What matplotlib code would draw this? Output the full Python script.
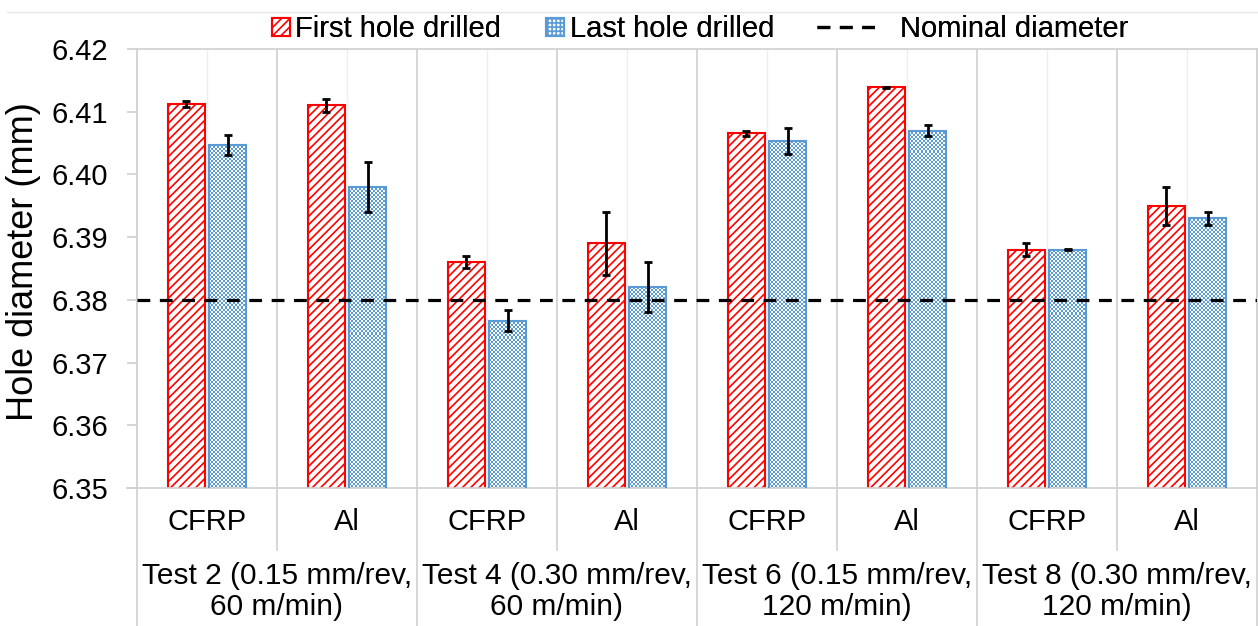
"""
Hole diameter, first vs last hole drilled, per test and material
"""

import matplotlib
matplotlib.use("Agg")
import matplotlib.pyplot as plt
from matplotlib.patches import Rectangle
from matplotlib.lines import Line2D
from matplotlib.legend_handler import HandlerPatch
from matplotlib.colors import ListedColormap
import numpy as np

plt.rcParams['font.family'] = ['Liberation Sans', 'DejaVu Sans']
plt.rcParams['hatch.linewidth'] = 1.2

# data
materials = ['CFRP', 'Al']
tests = ['Test 2 (0.15 mm/rev,\n60 m/min)', 'Test 4 (0.30 mm/rev,\n60 m/min)',
         'Test 6 (0.15 mm/rev,\n120 m/min)', 'Test 8 (0.30 mm/rev,\n120 m/min)']
first_mean = [6.4112, 6.4110, 6.3860, 6.3890, 6.4066, 6.4139, 6.3880, 6.3950]
first_err = [0.0005, 0.0010, 0.0010, 0.0050, 0.0004, 0.0001, 0.0010, 0.0030]
last_mean = [6.4047, 6.3980, 6.3767, 6.3820, 6.4053, 6.4070, 6.3880, 6.3930]
last_err = [0.0016, 0.0040, 0.0017, 0.0040, 0.0021, 0.0009, 0.0001, 0.0010]
nominal = 6.38
yticks = [6.35, 6.36, 6.37, 6.38, 6.39, 6.40, 6.41, 6.42]
legend_labels = ['First hole drilled', 'Last hole drilled', 'Nominal diameter']

RED = '#FF0000'
BLUE = '#5B9BD5'
GRID_DARK = '#D0D0D0'
GRID_LIGHT = '#EFEFEF'

fig = plt.figure(figsize=(12.58, 6.26), dpi=100)
ax = fig.add_axes([137 / 1258, 1 - 488 / 626, 1120 / 1258, 439 / 626])

n = len(first_mean)
x = np.arange(n)
w = 0.26
off = 0.147

ax.set_xlim(-0.5, n - 0.5)
ax.set_ylim(6.35, 6.42)

# gridlines: darker at category boundaries, lighter at category centres
for b in np.arange(-0.5, n, 1.0):
    ax.axvline(b, color=GRID_DARK, lw=1.2, zorder=0)
for c in x:
    ax.axvline(c, color=GRID_LIGHT, lw=1.0, zorder=0)

ax.bar(x - off, first_mean, w, color='white', edgecolor=RED,
       hatch='////', lw=1.5, zorder=2)
last_bars = ax.bar(x + off, last_mean, w, color='none', edgecolor=BLUE,
                   lw=1.5, zorder=3)

# small checkerboard fill (2 px cells) for the "last hole" bars:
# one pixel-aligned image over the whole axes, clipped to each bar
checker = ListedColormap(['white', BLUE])
bb = ax.get_window_extent()
npx, npy = int(round(bb.width)), int(round(bb.height))
jj, ii = np.meshgrid(np.arange(npx), np.arange(npy))
cells = (ii // 2 + jj // 2) % 2
for rect in last_bars:
    im = ax.imshow(cells, extent=(*ax.get_xlim(), *ax.get_ylim()), cmap=checker,
                   interpolation='nearest', aspect='auto', zorder=2)
    im.set_clip_path(rect)

ax.errorbar(x - off, first_mean, yerr=first_err, fmt='none', ecolor='black',
            elinewidth=2, capsize=3, capthick=2, zorder=4)
ax.errorbar(x + off, last_mean, yerr=last_err, fmt='none', ecolor='black',
            elinewidth=2, capsize=3, capthick=2, zorder=4)
ax.axhline(nominal, color='black', lw=2.3, ls=(0, (4, 3)), zorder=5)

ax.set_xlim(-0.5, n - 0.5)
ax.set_ylim(6.35, 6.42)
ax.set_yticks(yticks)
ax.set_yticklabels([f'{v:.2f}' for v in yticks], fontsize=21)
ax.set_xticks([])
ax.tick_params(axis='y', length=7, width=1.2, color=GRID_DARK, pad=14)
for s in ax.spines.values():
    s.set_color(GRID_DARK)
    s.set_linewidth(1.2)

# two-level category labels
trans = ax.get_xaxis_transform()
for i in range(n):
    ax.text(i, -0.077, materials[i % 2], transform=trans, ha='center',
            va='center', fontsize=21, clip_on=False)
for g, t in enumerate(tests):
    ax.text(2 * g + 0.5, -0.235, t, transform=trans, ha='center', va='center',
            fontsize=21.5, linespacing=1.15, clip_on=False)

y_full = (488 - 626) / 439
y_half = (488 - 550) / 439
for b in np.arange(-0.5, n, 2.0):
    ax.add_line(Line2D([b, b], [0, y_full], transform=trans, color=GRID_DARK,
                       lw=1.2, clip_on=False))
for b in np.arange(0.5, n, 2.0):
    ax.add_line(Line2D([b, b], [0, y_half], transform=trans, color=GRID_DARK,
                       lw=1.2, clip_on=False))
ax.add_line(Line2D([-0.5 - 10 / 140, -0.5], [0, 0], transform=trans,
                   color=GRID_DARK, lw=1.2, clip_on=False))

fig.text(24 / 1258, 1 - 262 / 626, 'Hole diameter (mm)', rotation=90,
         ha='center', va='center', fontsize=26)

# faint chart frame line at top
fig.add_artist(Line2D([7 / 1258, 1], [1 - 12 / 626, 1 - 12 / 626],
                      transform=fig.transFigure, color='#E6E6E6', lw=1))


def square_patch(legend, orig_handle, xdescent, ydescent, width, height, fontsize):
    s = min(width, height)
    return Rectangle((width - s - xdescent, -ydescent + (height - s) / 2), s, s)


# legend: one entry per block, laid out like the original
handles = [Rectangle((0, 0), 1, 1, facecolor='white', edgecolor=RED, hatch='////', lw=1.5),
           Rectangle((0, 0), 1, 1, facecolor='white', edgecolor=BLUE, hatch='++++', lw=1.5),
           Line2D([], [], color='black', lw=2.3, ls=(0, (4, 3)))]
starts = [272, 546, 817]
hlen = [0.62, 0.62, 2.1]
tpad = [0.18, 0.22, 0.75]
for h, lab, sx, hl, tp in zip(handles, legend_labels, starts, hlen, tpad):
    leg = fig.legend([h], [lab], loc='center left',
                     bbox_to_anchor=(sx / 1258, 1 - 29 / 626), frameon=False,
                     fontsize=21, borderpad=0, borderaxespad=0, handlelength=hl,
                     handletextpad=tp,
                     handler_map={Rectangle: HandlerPatch(patch_func=square_patch)})
    fig.add_artist(leg)

fig.savefig('out.png', dpi=100)
